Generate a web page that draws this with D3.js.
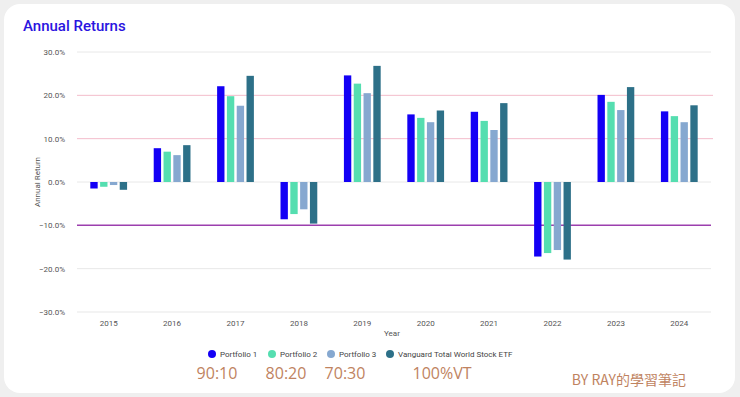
<!DOCTYPE html>
<html>
<head>
<meta charset="utf-8">
<script src="https://cdn.jsdelivr.net/npm/d3@7"></script>
<style>
  body { margin: 0; background: #efefef; }
  svg { display: block; font-family: Roboto, "Noto Sans", sans-serif; }
</style>
</head>
<body>
<div id="chart"></div>
<script>
const years = ['2015', '2016', '2017', '2018', '2019', '2020', '2021', '2022', '2023', '2024'];
const seriesNames = ['Portfolio 1', 'Portfolio 2', 'Portfolio 3', 'Vanguard Total World Stock ETF'];
const portfolio1 = [-1.5, 7.8, 22.1, -8.6, 24.6, 15.6, 16.2, -17.2, 20.1, 16.3];
const portfolio2 = [-1.1, 7.0, 19.8, -7.4, 22.7, 14.8, 14.1, -16.4, 18.5, 15.2];
const portfolio3 = [-0.7, 6.2, 17.6, -6.3, 20.5, 13.8, 12.0, -15.7, 16.6, 13.8];
const vt = [-1.8, 8.5, 24.5, -9.6, 26.8, 16.5, 18.2, -17.9, 21.9, 17.7];
const yTicks = [30, 20, 10, 0, -10, -20, -30];
const ratioLabels = ['90:10', '80:20', '70:30', '100%VT'];

const colors = ['#1400f5', '#55deb0', '#86a8d0', '#2d7088'];

const width = 740, height = 397;
const margin = {top: 52, right: 32, bottom: 85, left: 77};

const svg = d3.select('#chart').append('svg')
  .attr('width', width)
  .attr('height', height);

// card
svg.append('rect')
  .attr('x', 4).attr('y', 4)
  .attr('width', 731).attr('height', 389)
  .attr('rx', 16)
  .attr('fill', '#ffffff');

svg.append('text')
  .attr('x', 23).attr('y', 31)
  .attr('fill', '#2a14e0')
  .attr('font-size', 15)
  .attr('font-weight', 500)
  .text('Annual Returns');

const x = d3.scaleBand()
  .domain(years)
  .range([margin.left, width - margin.right + 3])
  .paddingInner(0)
  .paddingOuter(0);

const x1 = d3.scaleBand()
  .domain(seriesNames)
  .range([x.bandwidth() * 0.21, x.bandwidth() * 0.79])
  .paddingInner(0.25);

const y = d3.scaleLinear()
  .domain([-30, 30])
  .range([height - margin.bottom, margin.top]);

const gridColor = v => v === 10 || v === 20 ? '#f3bccb' : v === -10 ? '#9c3fae' : '#e8e8e8';

// gridlines
svg.append('g')
  .selectAll('line')
  .data(yTicks)
  .join('line')
  .attr('x1', margin.left)
  .attr('x2', d => d === 10 || d === 20 ? 713 : x.range()[1])
  .attr('y1', d => y(d))
  .attr('y2', d => y(d))
  .attr('stroke', d => gridColor(d))
  .attr('stroke-width', d => d === -10 ? 1.5 : d === -30 ? 1.2 : 1);

// y axis labels
const yAxis = svg.append('g')
  .attr('transform', `translate(${margin.left - 9},0)`)
  .call(d3.axisLeft(y).tickValues(yTicks).tickSize(0).tickFormat(d => d3.format('.1f')(d) + '%'));
yAxis.select('.domain').remove();
yAxis.selectAll('text')
  .attr('font-size', 8)
  .attr('fill', '#555')
  .attr('font-family', 'Roboto, sans-serif');

// x axis labels
const xAxis = svg.append('g')
  .attr('transform', `translate(0,${y(-30) + 5})`)
  .call(d3.axisBottom(x).tickSize(0));
xAxis.select('.domain').remove();
xAxis.selectAll('text')
  .attr('font-size', 8)
  .attr('fill', '#555')
  .attr('font-family', 'Roboto, sans-serif');

svg.append('text')
  .attr('x', 392).attr('y', 336)
  .attr('text-anchor', 'middle')
  .attr('font-size', 8)
  .attr('fill', '#555')
  .text('Year');

svg.append('text')
  .attr('transform', `translate(40,${y(0)}) rotate(-90)`)
  .attr('text-anchor', 'middle')
  .attr('font-size', 8)
  .attr('fill', '#555')
  .text('Annual Return');

// bars
const series = [portfolio1, portfolio2, portfolio3, vt];
const barData = years.flatMap((yr, i) => seriesNames.map((s, j) => ({year: yr, name: s, value: series[j][i], color: colors[j]})));

svg.append('g')
  .selectAll('rect')
  .data(barData)
  .join('rect')
  .attr('x', d => x(d.year) + x1(d.name))
  .attr('width', x1.bandwidth())
  .attr('y', d => y(Math.max(0, d.value)))
  .attr('height', d => Math.abs(y(d.value) - y(0)))
  .attr('fill', d => d.color);

// legend
const legendX = [212, 272, 331, 390];
const legend = svg.append('g');
legend.selectAll('circle')
  .data(seriesNames)
  .join('circle')
  .attr('cx', (d, i) => legendX[i])
  .attr('cy', 354)
  .attr('r', 4)
  .attr('fill', (d, i) => colors[i]);
legend.selectAll('text')
  .data(seriesNames)
  .join('text')
  .attr('x', (d, i) => legendX[i] + 8)
  .attr('y', 357)
  .attr('font-size', 8)
  .attr('fill', '#444')
  .text(d => d);

// ratio annotations
const ratioX = [217, 286, 345, 442];
svg.append('g')
  .selectAll('text')
  .data(ratioLabels)
  .join('text')
  .attr('x', (d, i) => ratioX[i])
  .attr('y', 379)
  .attr('text-anchor', 'middle')
  .attr('font-size', 16)
  .attr('fill', '#c0835f')
  .attr('font-family', '"Open Sans", "Noto Sans", sans-serif')
  .text(d => d);

svg.append('text')
  .attr('x', 686).attr('y', 385)
  .attr('text-anchor', 'end')
  .attr('font-size', 14)
  .attr('fill', '#c0835f')
  .attr('font-family', '"Noto Sans CJK TC", "Noto Sans", sans-serif')
  .text('BY RAY的學習筆記');
</script>
</body>
</html>
